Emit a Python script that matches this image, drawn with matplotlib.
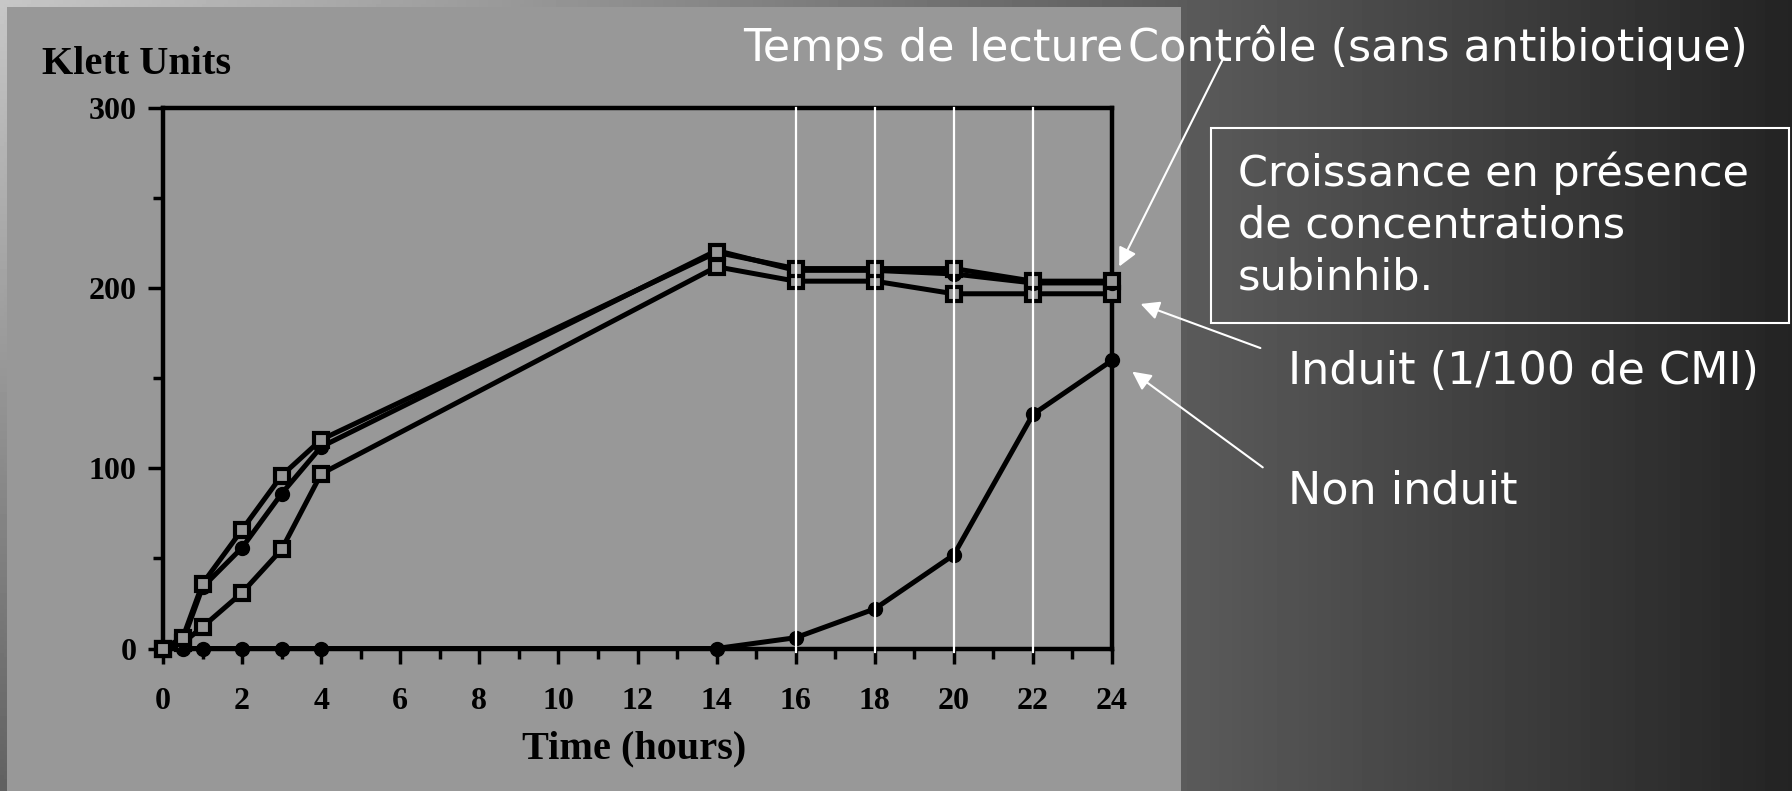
import matplotlib
matplotlib.use("Agg")
import matplotlib.pyplot as plt
import numpy as np
from matplotlib.patches import Rectangle

# donnees (Klett units)
heures = [0, 0.5, 1, 2, 3, 4, 14, 16, 18, 20, 22, 24]
controle = [0, 6, 36, 66, 96, 116, 220, 211, 211, 211, 204, 204]
subinhib = [0, 4, 34, 56, 86, 112, 221, 210, 210, 208, 203, 203]
induit = [0, 3, 12, 31, 55, 97, 212, 204, 204, 197, 197, 197]
non_induit = [0, 0, 0, 0, 0, 0, 0, 6, 22, 52, 130, 160]

temps_lecture = [16, 18, 20, 22]
xticks = list(range(0, 25, 2))
yticks = [0, 100, 200, 300]

W, H = 1792, 791
panneau = "#989898"
serif = "Liberation Serif"
slide_font = "DejaVu Sans"

fig = plt.figure(figsize=(W / 100, H / 100), dpi=100)

# fond de la diapo (degrade)
bg = fig.add_axes([0, 0, 1, 1], zorder=0)
xx, yy = np.meshgrid(np.linspace(0, 1, 400), np.linspace(0, 1, 200))
v = 0.78 - 0.64 * xx - 0.40 * yy * np.clip(1 - xx * W / 600, 0, 1)
v = np.clip(v, 0.13, 1)
bg.imshow(v, cmap="gray", vmin=0, vmax=1, extent=[0, W, H, 0], aspect="auto")
bg.add_patch(Rectangle((7, 7), 1181 - 7, H, color=panneau, lw=0))
bg.set_xlim(0, W)
bg.set_ylim(H, 0)
bg.axis("off")

# graphique scanne
ax = fig.add_axes([163 / W, 1 - 648.5 / H, (1112 - 163) / W, (648.5 - 108.3) / H], zorder=1)
ax.set_facecolor("none")

kw = dict(color="black", lw=3.6, clip_on=False, zorder=3)
ax.plot(heures, non_induit, marker="o", ms=10, **kw)
ax.plot(heures, induit, marker="s", ms=10, mfc=panneau, mec="black", mew=3, **kw)
ax.plot(heures, subinhib, marker="o", ms=10, **kw)
ax.plot(heures, controle, marker="s", ms=10, mfc=panneau, mec="black", mew=3, **kw)

for t in temps_lecture:
    ax.plot([t, t], [-2, 300], color="white", lw=1.6, zorder=5, clip_on=False)

ax.set_xlim(0, 24)
ax.set_ylim(0, 300)
ax.set_xticks(xticks)
ax.set_xticks(range(1, 24, 2), minor=True)
ax.set_yticks(yticks)
ax.set_yticks([50, 150, 250], minor=True)
for s in ax.spines.values():
    s.set_linewidth(3.2)
ax.tick_params(which="major", direction="out", length=11, width=2.5)
ax.tick_params(which="minor", direction="out", length=7, width=2.5)
ax.tick_params(axis="x", which="major", pad=17)
ax.tick_params(axis="y", which="major", pad=8)
for lab in ax.get_xticklabels() + ax.get_yticklabels():
    lab.set_fontfamily(serif)
    lab.set_fontweight("bold")
    lab.set_fontsize(23)

# textes et fleches de la diapo, en pixels
ov = fig.add_axes([0, 0, 1, 1], zorder=10)
ov.set_xlim(0, W)
ov.set_ylim(H, 0)
ov.axis("off")

ov.text(42, 65, "Klett Units", family=serif, weight="bold", fontsize=29, va="center", ha="left")
ov.text(634, 749, "Time (hours)", family=serif, weight="bold", fontsize=29, va="center", ha="center")

tkw = dict(family=slide_font, color="white", va="center", ha="left")
ov.text(743, 48, "Temps de lecture", fontsize=32, **tkw)
ov.text(1128, 48, "Contrôle (sans antibiotique)", fontsize=32, **tkw)
ov.text(1238, 225, "Croissance en présence\nde concentrations\nsubinhib.", fontsize=31, linespacing=1.3, **tkw)
ov.add_patch(Rectangle((1211, 128), 578, 195, fill=False, ec="white", lw=1.5))
ov.text(1288, 371, "Induit (1/100 de CMI)", fontsize=32, **tkw)
ov.text(1288, 491, "Non induit", fontsize=32, **tkw)

akw = dict(arrowstyle="-|>", color="white", lw=1.5, mutation_scale=28)
ov.annotate("", xy=(1118, 269), xytext=(1225, 55), arrowprops=akw)
ov.annotate("", xy=(1138, 303), xytext=(1263, 349), arrowprops=akw)
ov.annotate("", xy=(1130, 370), xytext=(1265, 469), arrowprops=akw)

fig.savefig("out.png", dpi=100)
